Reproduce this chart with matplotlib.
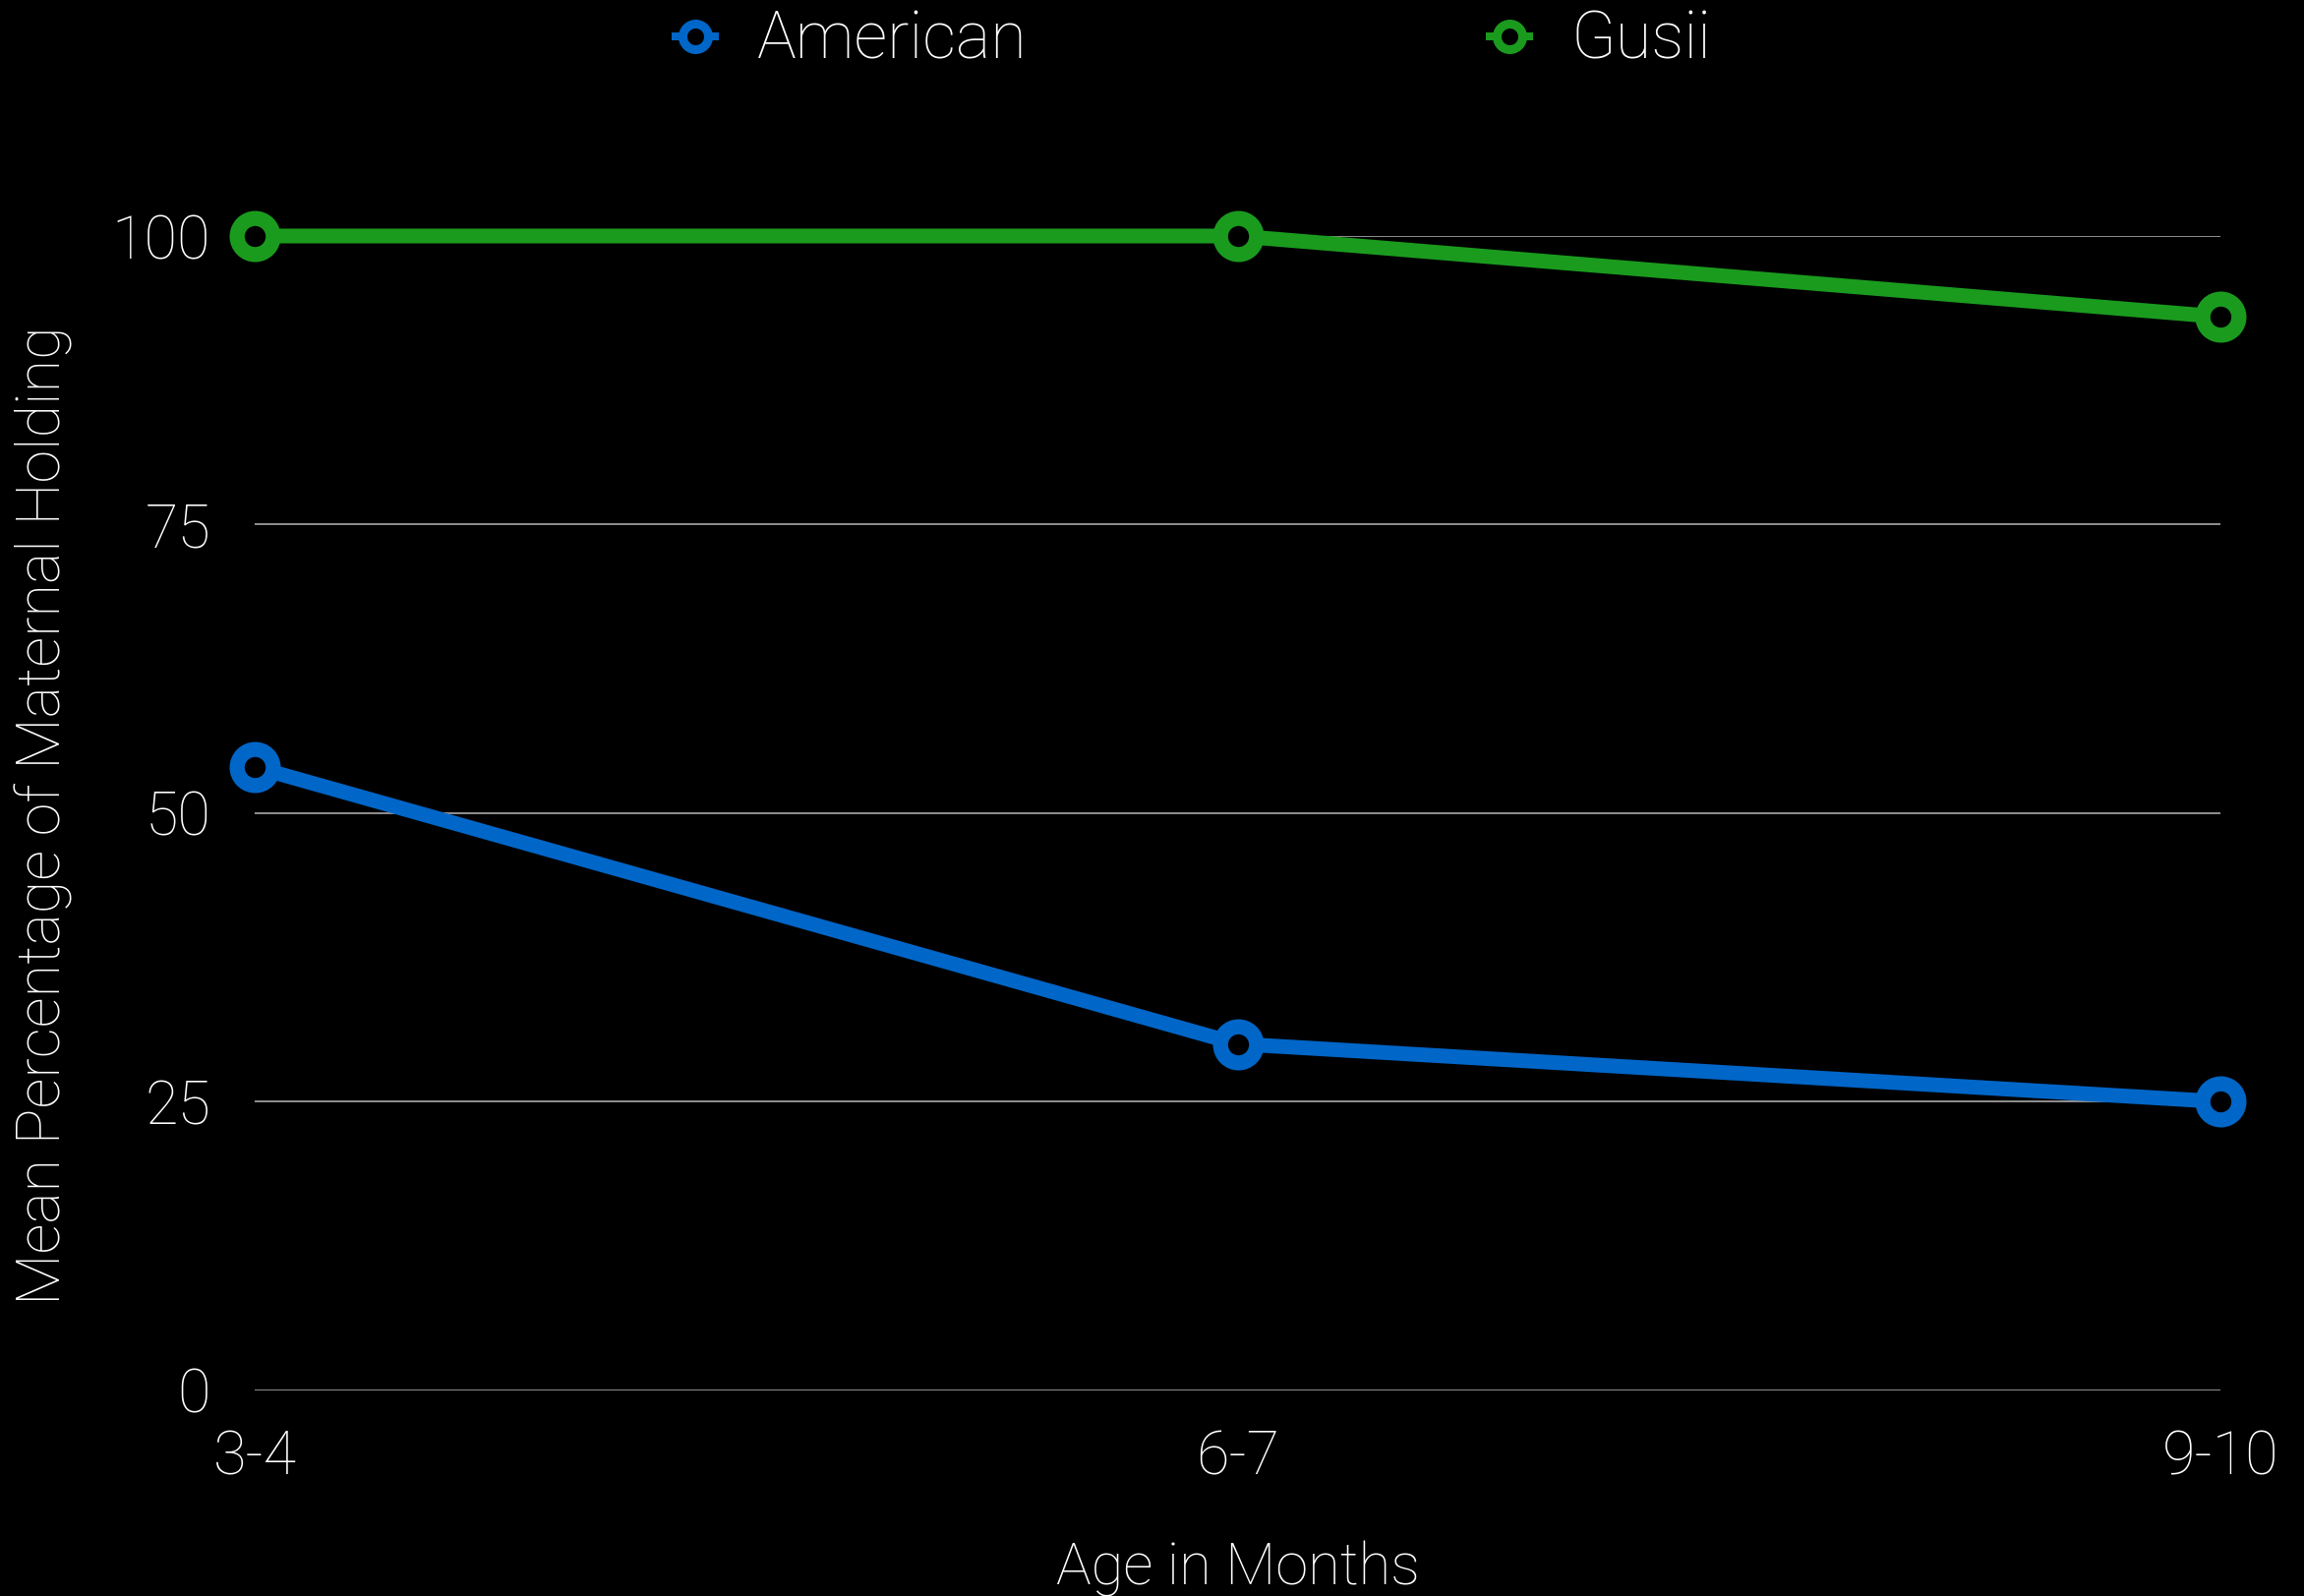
import matplotlib
matplotlib.use("Agg")
import matplotlib.pyplot as plt
from matplotlib.lines import Line2D

categories = ["3-4", "6-7", "9-10"]
american = [54, 30, 25]
gusii = [100, 100, 93]
yticks = [0, 25, 50, 75, 100]
series_names = ["American", "Gusii"]

BLUE = "#0066c8"
GREEN = "#1a9b1e"
FONT = "Roboto"
W, H = 2343, 1623
DPI = 100

plt.rcParams["font.family"] = [FONT, "DejaVu Sans"]
plt.rcParams["font.weight"] = "light"
plt.rcParams["axes.labelweight"] = "light"

fig = plt.figure(figsize=(W / DPI, H / DPI), dpi=DPI, facecolor="black")
left, right = 259 / W, 2258 / W
y0, y100 = 1413.7, 240
bottom, top = (H - y0) / H, (H - y100) / H
ax = fig.add_axes([left, bottom, right - left, top - bottom], facecolor="black")
aw, ah = 2258 - 259, y0 - y100

x = list(range(len(categories)))
px = 72 / DPI
for vals, col in [(american, BLUE), (gusii, GREEN)]:
    ax.plot(x, vals, color=col, lw=15 * px, marker="o", ms=36.7 * px,
            mfc="black", mec=col, mew=15.3 * px, clip_on=False, zorder=3,
            solid_capstyle="butt")

ax.set_xlim(0, len(categories) - 1)
ax.set_ylim(0, 100)
ax.set_yticks(yticks)
ax.set_yticklabels([str(v) for v in yticks])
ax.set_xticks(x)
ax.set_xticklabels(categories)
ax.grid(axis="y", color="#8c8c8c", lw=2 * px, zorder=0)
ax.grid(axis="x", visible=False)
for s in ax.spines.values():
    s.set_visible(False)
ax.tick_params(axis="both", length=0, colors="white", labelsize=44)
ax.tick_params(axis="y", pad=45 * px)
ax.tick_params(axis="x", pad=40 * px)
ax.set_xlabel("Age in Months", color="white", fontsize=43)
ax.set_ylabel("Mean Percentage of Maternal Holding", color="white", fontsize=44)
ax.xaxis.label.set_va("center")
ax.yaxis.label.set_va("center")
ax.xaxis.set_label_coords(0.5, -(1595 - y0) / ah)
ax.yaxis.set_label_coords((44 - 259) / aw, 0.5 - (829 - (y0 + y100) / 2) / ah)

handles = [Line2D([0], [0], color=c, lw=8 * px, marker="o", ms=26 * px, mfc="black",
                  mec=c, mew=9 * px, solid_capstyle="butt") for c in (BLUE, GREEN)]
leg = fig.legend(handles, series_names, loc="center", bbox_to_anchor=(1212 / W, 1 - 42 / H),
                 ncol=2, frameon=False, fontsize=48, labelcolor="white",
                 handlelength=0.72, handletextpad=0.58, columnspacing=7.0)

fig.savefig("out.png", dpi=DPI, facecolor="black")
